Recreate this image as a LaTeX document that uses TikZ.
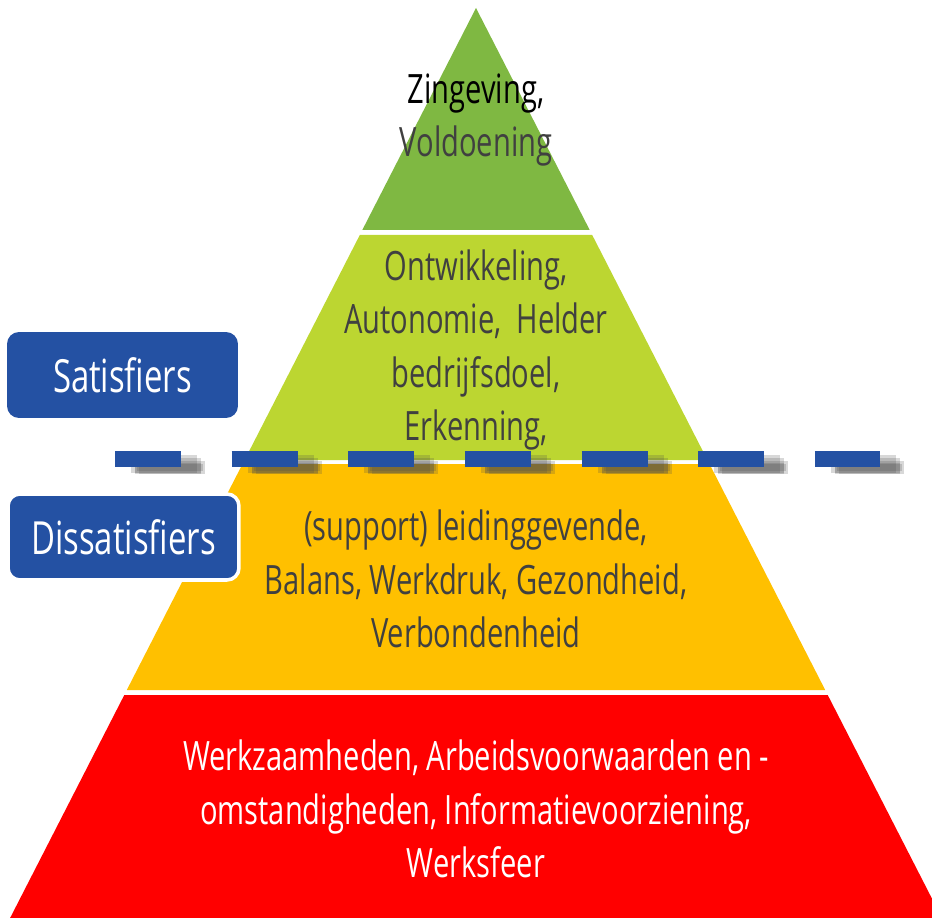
\documentclass[tikz,border=0pt]{standalone}
\usepackage{fontspec}
\setmainfont{Open Sans}[FakeStretch=0.72]
\usepackage{tikz}
\usetikzlibrary{calc}

\definecolor{topgreen}{HTML}{7FB842}
\definecolor{limegreen}{HTML}{BCD631}
\definecolor{ambergold}{HTML}{FFC000}
\definecolor{basered}{HTML}{FF0000}
\definecolor{labelblue}{HTML}{2451A3}
\definecolor{txtgray}{HTML}{404040}

\tikzstyle{layertext} = [align=center, 
font=\fontsize{23}{30.3}\selectfont, 
text=txtgray]
\tikzstyle{sidebox} = [rectangle, rounded corners=0.24cm, 
minimum width=4.62cm, 
minimum height=1.72cm, 
fill=labelblue, text=white, 
font=\fontsize{26}{32}\selectfont]
\tikzstyle{dashline} = [line width=0.32cm, labelblue, dash pattern=on 1.32cm off 1.013cm]
\tikzstyle{dashshadow} = [black!70, opacity=0.22, dash pattern=on 1.32cm off 1.013cm]

\begin{document}
\begin{tikzpicture} [x=0.02cm, y=-0.02cm]
    \useasboundingbox (0,0) rectangle (932,918);

    % the pyramid layers
    \fill [topgreen] (476,8) -- (589.7,230) -- (362.3,230) -- cycle;
    \fill [limegreen] (359.8,235) -- (592.2,235) -- (707.4,460) -- (244.6,460) -- cycle;
    \fill [ambergold] (242.5,464) -- (709.5,464) -- (825.2,690) -- (126.8,690) -- cycle;
    \fill [basered] (124.3,695) -- (827.7,695) -- (941.9,918) -- (10.1,918) -- cycle;

    % the layer texts
    \node (Meaning) [layertext] at (476,120) {{\color{black}Zingeving,}\\Voldoening};
    \node (Growth) [layertext] at (476,350) {Ontwikkeling,\\Autonomie,\ \ Helder\\bedrijfsdoel,\\Erkenning,};
    \node (Hygiene) [layertext] at (476,579) {(support) leidinggevende,\\Balans, Werkdruk, Gezondheid,\\Verbondenheid};
    \node (Basics) [layertext, text=white] at (476,809) {Werkzaamheden, Arbeidsvoorwaarden en -\\omstandigheden, Informatievoorziening,\\Werksfeer};

    % the separator, with a soft shadow
    \coordinate (sepL) at (115,459);
    \coordinate (sepR) at (880,459);
    \foreach \dx/\dy/\lw in {16/5/0.38cm, 20/7/0.32cm, 24/8/0.26cm, 20/9/0.2cm, 22/8/0.14cm}
        \draw [dashshadow, line width=\lw] ($(sepL)+(\dx,\dy)$) -- ($(sepR)+(\dx,\dy)$);
    \draw [dashline] (sepL) -- (sepR);

    % the side labels
    \node (Sat) [sidebox] at (122.5,375) {Satisfiers};
    \node (Dissat) [sidebox, draw=white, line width=2pt] at (123.5,537) {Dissatisfiers};

\end{tikzpicture}
\end{document}
